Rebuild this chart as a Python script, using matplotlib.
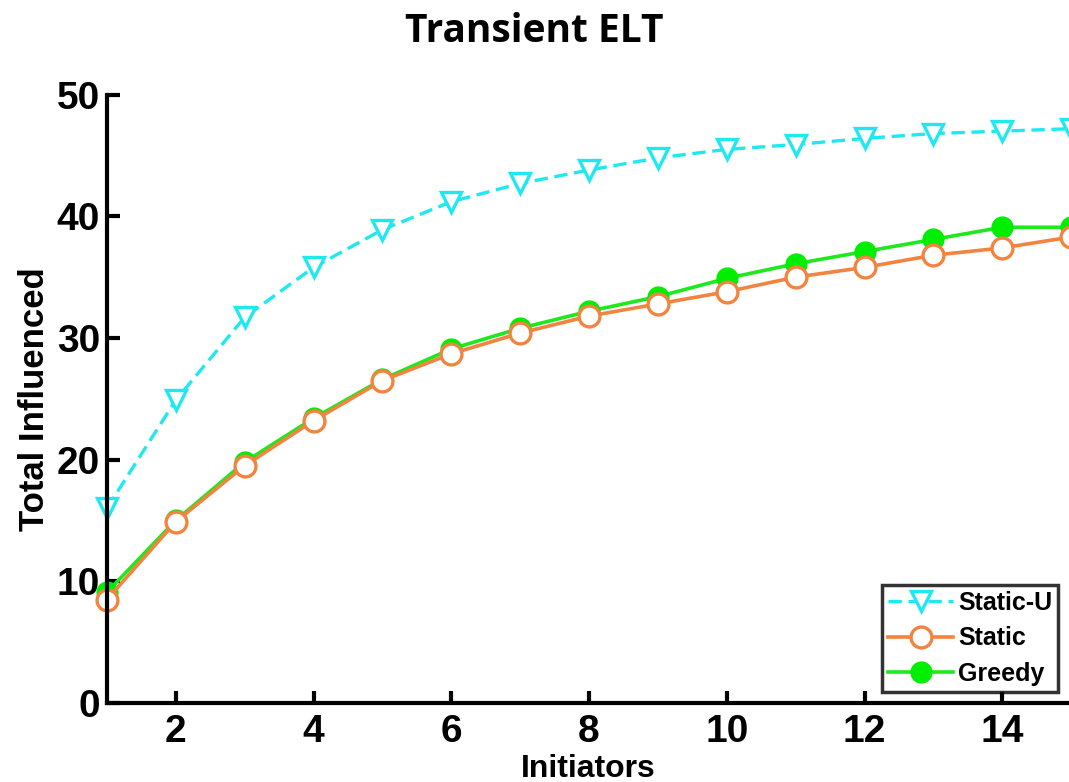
import numpy as np
import matplotlib.pyplot as plt

# data
initiators = np.arange(1, 16)
static_u = [16.0, 24.9, 31.7, 35.8, 38.9, 41.2, 42.7, 43.8, 44.8, 45.5, 45.9, 46.4, 46.8, 47.0, 47.2]
static = [8.5, 14.9, 19.5, 23.2, 26.5, 28.7, 30.4, 31.8, 32.8, 33.8, 35.0, 35.8, 36.8, 37.4, 38.3]
greedy = [9.1, 15.0, 19.8, 23.4, 26.6, 29.1, 30.8, 32.2, 33.4, 34.9, 36.1, 37.1, 38.1, 39.1, 39.1]

plt.rcParams['font.family'] = ['Liberation Sans', 'DejaVu Sans']
plt.rcParams['font.weight'] = 'bold'

fig = plt.figure(figsize=(10.69, 7.82), dpi=100)
ax = fig.add_axes([0.100, 0.101, 0.902, 0.778])

ax.plot(initiators, static_u, '--v', color='#1ee8f0', lw=2.4, ms=15,
        mfc='white', mec='#1ee8f0', mew=2.4, label='Static-U', clip_on=False,
        dashes=(4, 2))
ax.plot(initiators, greedy, '-o', color='#1ee81e', lw=2.6, ms=15,
        mfc='#00ee00', mec='#00ee00', label='Greedy', clip_on=False)
ax.plot(initiators, static, '-o', color='#f28440', lw=2.6, ms=15,
        mfc='white', mec='#f28440', mew=2.4, label='Static', clip_on=False)

ax.set_xlim(1, 15)
ax.set_ylim(0, 50)
ax.set_xticks(range(2, 16, 2))
ax.set_yticks(range(0, 51, 10))
ax.tick_params(direction='in', length=9, width=3, labelsize=28, pad=5)
ax.tick_params(axis='x', pad=8)
for lab in ax.get_xticklabels() + ax.get_yticklabels():
    lab.set_fontweight('bold')

for side in ['top', 'right']:
    ax.spines[side].set_visible(False)
for side in ['left', 'bottom']:
    ax.spines[side].set_linewidth(3)

# x label sits tight against the bottom edge, as in the reference
fig.text(0.55, 0.007, 'Initiators', ha='center', va='baseline',
         fontsize=23, fontweight='bold')
ax.set_ylabel('Total Influenced', fontsize=25, fontweight='bold', labelpad=4)
fig.text(0.50, 0.96, 'Transient ELT', ha='center', va='center',
         fontsize=28, fontweight='bold', family='Open Sans')

handles, labels = ax.get_legend_handles_labels()
order = [0, 2, 1]
leg = ax.legend([handles[i] for i in order], [labels[i] for i in order],
                loc='lower right', bbox_to_anchor=(0.992, 0.01),
                fontsize=18, frameon=True, fancybox=False, edgecolor='black',
                handlelength=2.6, handletextpad=0.2, borderpad=0.25,
                labelspacing=0.45, borderaxespad=0.2, markerscale=1.0)
leg.get_frame().set_linewidth(2.5)
for t in leg.get_texts():
    t.set_fontweight('bold')

fig.savefig('out.png', dpi=100)
